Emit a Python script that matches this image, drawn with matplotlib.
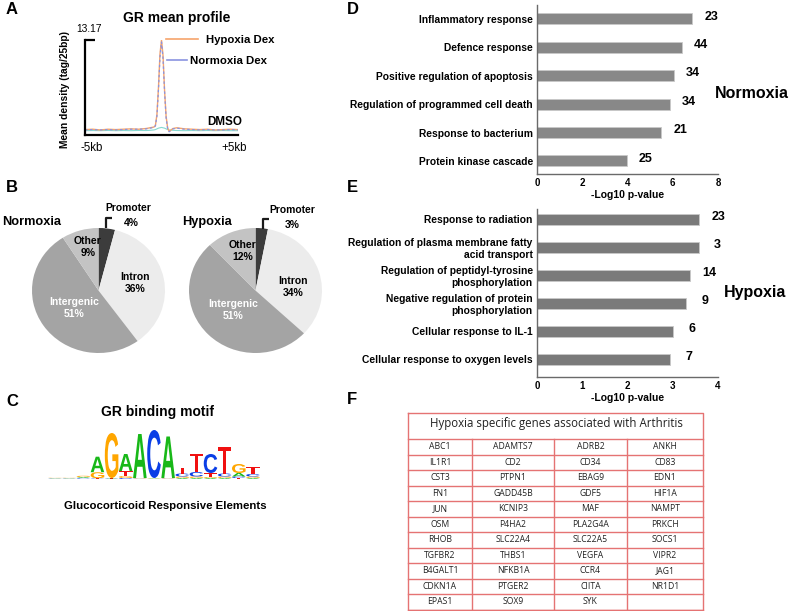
import matplotlib
matplotlib.use("Agg")
import matplotlib.pyplot as plt
from matplotlib.textpath import TextPath
from matplotlib.font_manager import FontProperties
from matplotlib.patches import PathPatch
from matplotlib.transforms import Affine2D

# ---------------- data ----------------
# Panel A: GR mean profile
profile_kb = [-5, -4.5, -4, -3.5, -3, -2.5, -2, -1.5, -1, -0.75, -0.5, -0.4, -0.3, -0.2, -0.1, 0,
              0.1, 0.2, 0.3, 0.4, 0.5, 0.75, 1, 1.5, 2, 2.5, 3, 3.5, 4, 4.5, 5]
hypoxia_dex = [0.75, 0.8, 0.7, 0.8, 0.75, 0.8, 0.85, 0.8, 0.9, 1.0, 1.1, 1.3, 2.8, 6.5, 11.2, 13.17,
               11.0, 6.2, 2.6, 1.0, 0.5, 0.9, 1.0, 0.85, 0.8, 0.75, 0.8, 0.7, 0.75, 0.8, 0.75]
normoxia_dex = [0.7, 0.75, 0.7, 0.75, 0.7, 0.75, 0.8, 0.8, 0.85, 0.95, 1.05, 1.25, 2.6, 6.2, 10.8, 12.9,
                10.6, 6.0, 2.4, 0.9, 0.45, 0.85, 0.95, 0.8, 0.75, 0.7, 0.75, 0.7, 0.7, 0.75, 0.7]
dmso = [0.6, 0.62, 0.6, 0.63, 0.6, 0.62, 0.6, 0.63, 0.62, 0.65, 0.7, 0.75, 0.85, 0.95, 1.0, 1.05,
        1.0, 0.95, 0.85, 0.75, 0.7, 0.65, 0.62, 0.6, 0.62, 0.6, 0.62, 0.6, 0.62, 0.6, 0.6]
profile_ymax = 13.17

# Panel B: genomic distribution
pie_labels = ["Promoter", "Intron", "Intergenic", "Other"]
normoxia_pct = [4, 36, 51, 9]
hypoxia_pct = [3, 34, 51, 12]

# Panel C: motif (stack bottom->top, heights in bits-like units)
motif = [
    [("T", 0.3), ("C", 0.3), ("A", 0.3), ("G", 0.3)],
    [("T", 0.3), ("C", 0.3), ("A", 0.3), ("G", 0.3)],
    [("T", 0.4), ("C", 0.7), ("A", 0.9), ("G", 1.2)],
    [("C", 0.4), ("T", 0.4), ("G", 6.0), ("A", 15.5)],
    [("C", 0.3), ("T", 0.3), ("A", 0.4), ("G", 45.0)],
    [("C", 1.0), ("G", 2.0), ("T", 5.0), ("A", 17.0)],
    [("T", 0.3), ("C", 0.3), ("G", 0.4), ("A", 44.0)],
    [("T", 0.3), ("G", 0.3), ("A", 0.4), ("C", 48.0)],
    [("T", 0.3), ("C", 0.3), ("G", 0.4), ("A", 41.5)],
    [("A", 1.0), ("G", 1.5), ("C", 3.0), ("T", 6.0)],
    [("A", 1.0), ("G", 1.5), ("C", 4.5), ("T", 18.5)],
    [("A", 1.0), ("G", 1.0), ("T", 4.0), ("C", 19.0)],
    [("A", 1.0), ("G", 1.5), ("C", 3.0), ("T", 27.0)],
    [("T", 1.0), ("C", 1.5), ("A", 3.5), ("G", 9.0)],
    [("A", 1.0), ("G", 1.5), ("C", 2.5), ("T", 7.0)],
]

# Panel D: normoxia GO terms
norm_terms = ["Inflammatory response", "Defence response", "Positive regulation of apoptosis",
              "Regulation of programmed cell death", "Response to bacterium", "Protein kinase cascade"]
norm_logp = [6.87, 6.40, 6.05, 5.87, 5.50, 3.96]
norm_counts = [23, 44, 34, 34, 21, 25]

# Panel E: hypoxia GO terms
hyp_terms = ["Response to radiation", "Regulation of plasma membrane fatty\nacid transport",
             "Regulation of peptidyl-tyrosine\nphosphorylation",
             "Negative regulation of protein\nphosphorylation", "Cellular response to IL-1",
             "Cellular response to oxygen levels"]
hyp_logp = [3.59, 3.57, 3.39, 3.30, 3.00, 2.93]
hyp_counts = [23, 3, 14, 9, 6, 7]

# Panel F: gene table
table_title = "Hypoxia specific genes associated with Arthritis"
genes_col1 = ["ABC1", "IL1R1", "CST3", "FN1", "JUN", "OSM", "RHOB", "TGFBR2", "B4GALT1", "CDKN1A", "EPAS1"]
genes_col2 = ["ADAMTS7", "CD2", "PTPN1", "GADD45B", "KCNIP3", "P4HA2", "SLC22A4", "THBS1", "NFKB1A", "PTGER2", "SOX9"]
genes_col3 = ["ADRB2", "CD34", "EBAG9", "GDF5", "MAF", "PLA2G4A", "SLC22A5", "VEGFA", "CCR4", "CIITA", "SYK"]
genes_col4 = ["ANKH", "CD83", "EDN1", "HIF1A", "NAMPT", "PRKCH", "SOCS1", "VIPR2", "JAG1", "NR1D1", ""]

# ---------------- layout helpers ----------------
W, H = 789, 611
plt.rcParams['font.family'] = ['Liberation Sans', 'DejaVu Sans']
fig = plt.figure(figsize=(W / 100, H / 100), dpi=100)
fig.patch.set_facecolor("white")


def rect(x0, y0, x1, y1):
    return [x0 / W, 1 - y1 / H, (x1 - x0) / W, (y1 - y0) / H]


ov = fig.add_axes([0, 0, 1, 1], zorder=10)
ov.set_xlim(0, W)
ov.set_ylim(H, 0)
ov.axis("off")
ov.patch.set_visible(False)


def T(x, y, s, size=7, weight="bold", ha="center", va="center", **kw):
    ov.text(x, y, s, fontsize=size, fontweight=weight, ha=ha, va=va, **kw)


# panel letters
for letter, (lx, ly) in zip("ABCDEF", [(6, 10), (6, 188), (6, 401), (347, 10), (347, 188), (347, 399)]):
    T(lx, ly, letter, size=12, ha="left")

# ---------------- Panel A ----------------
axA = fig.add_axes(rect(85, 40, 238, 135))
axA.plot(profile_kb, dmso, color="#86d8cf", lw=0.8)
axA.plot(profile_kb, hypoxia_dex, color="#f6a46c", lw=1.0)
axA.plot(profile_kb, normoxia_dex, color="#8a93e0", lw=0.9, ls=(0, (2, 2)))
axA.set_xlim(-5, 5)
axA.set_ylim(0, profile_ymax)
for s in ["top", "right"]:
    axA.spines[s].set_visible(False)
for s in ["left", "bottom"]:
    axA.spines[s].set_linewidth(1.6)
axA.set_xticks([])
axA.set_yticks([profile_ymax])
axA.set_yticklabels([])
axA.tick_params(axis="y", direction="in", length=7, width=1.6)
T(177, 18, "GR mean profile", size=10)
T(76, 29, "13.17", size=7.4, weight="normal", ha="left")
T(92, 148, "-5kb", size=8.3, weight="normal")
T(234, 148, "+5kb", size=8.3, weight="normal")
T(65, 90, "Mean density (tag/25bp)", size=7.4, rotation=90)
ov.plot([166, 198], [39, 39], color="#f6a46c", lw=1.2)
T(206, 40, "Hypoxia Dex", size=8.2, ha="left")
ov.plot([167, 187], [60, 60], color="#8a93e0", lw=1.2)
T(190, 61, "Normoxia Dex", size=8.2, ha="left")
T(225, 122, "DMSO", size=8.4)

# ---------------- Panel B ----------------
pie_colors = ["#3c3c3c", "#ececec", "#a4a4a4", "#c3c3c3"]
for (x0, x1), vals, title, tx in [((32, 165), normoxia_pct, "Normoxia", 2),
                                  ((189, 322), hypoxia_pct, "Hypoxia", 182)]:
    axp = fig.add_axes(rect(x0, 228, x1, 353))
    axp.pie(vals, colors=pie_colors, startangle=90, counterclock=False, radius=1.0,
            wedgeprops=dict(edgecolor="none"))
    axp.set_aspect("auto")
    axp.set_xlim(-1, 1)
    axp.set_ylim(-1, 1)
    T(tx, 222, title, size=9.2, ha="left")

T(128, 208, "Promoter", size=7.4)
T(131, 223, "4%", size=7.4)
ov.plot([106, 106, 112], [228, 218, 218], color="#1a1a1a", lw=1.6, solid_capstyle="butt")
T(88, 247, "Other\n9%", size=7.5, linespacing=1.15)
T(135, 283, "Intron\n36%", size=7.5, linespacing=1.15)
T(74, 308, "Intergenic\n51%", size=7.5, color="white", linespacing=1.15)

T(292, 210, "Promoter", size=7.4)
T(292, 225, "3%", size=7.4)
ov.plot([263, 263, 269], [229, 219, 219], color="#1a1a1a", lw=1.6, solid_capstyle="butt")
T(243, 251, "Other\n12%", size=7.5, linespacing=1.15)
T(293, 287, "Intron\n34%", size=7.5, linespacing=1.15)
T(233, 310, "Intergenic\n51%", size=7.5, color="white", linespacing=1.15)

# ---------------- Panel C ----------------
axC = fig.add_axes(rect(48, 425, 260, 479))
axC.set_xlim(-0.5, len(motif) - 0.5)
axC.set_ylim(0, 54)
axC.axis("off")
letter_colors = {"A": "#18b818", "C": "#0a3ee6", "G": "#ffa600", "T": "#f01010"}
fp = FontProperties(family="Liberation Sans", weight="bold")
for i, stack in enumerate(motif):
    y0 = 0.0
    for letter, h in stack:
        tp = TextPath((0, 0), letter, size=1, prop=fp)
        bb = tp.get_extents()
        w = 0.96
        tr = Affine2D().translate(-bb.x0, -bb.y0).scale(w / bb.width, h / bb.height).translate(i - w / 2, y0)
        axC.add_patch(PathPatch(tr.transform_path(tp), facecolor=letter_colors[letter], edgecolor="none"))
        y0 += h
T(158, 412, "GR binding motif", size=10)
T(165, 506, "Glucocorticoid Responsive Elements", size=8.2)

# ---------------- Panels D and E ----------------
def go_panel(ypx, terms, vals, counts, xmax, ylim, color, offset, side_label, side_xy):
    ax = fig.add_axes(rect(537, ypx[0], 718, ypx[1]))
    ypos = list(range(len(terms)))
    ax.barh(ypos, vals, height=0.39, color=color, edgecolor="#c8c8c8", linewidth=0.6)
    ax.set_xlim(0, xmax)
    ax.set_ylim(*ylim)
    ax.set_yticks(ypos)
    ax.set_yticklabels(terms, fontsize=7.4, fontweight="bold", linespacing=1.2)
    ax.tick_params(axis="y", length=0, pad=3)
    ax.set_xticks(range(0, xmax + 1, 2 if xmax == 8 else 1))
    ax.tick_params(axis="x", length=0, pad=3, labelsize=7)
    for lab in ax.get_xticklabels():
        lab.set_fontweight("bold")
    for s in ["top", "right"]:
        ax.spines[s].set_visible(False)
    for s in ["left", "bottom"]:
        ax.spines[s].set_color("#6a6a6a")
        ax.spines[s].set_linewidth(1.0)
    ax.set_xlabel("-Log10 p-value", fontsize=7.5, fontweight="bold", labelpad=1)
    for yv, v, c in zip(ypos, vals, counts):
        ax.text(v + offset, yv - 0.08, str(c), fontsize=9, fontweight="bold", ha="center", va="center")
    T(side_xy[0], side_xy[1], side_label, size=11.5, ha="left")
    return ax


go_panel((5, 174), norm_terms, norm_logp, norm_counts, 8, (5.46, -0.49), "#888888", 0.85,
         "Normoxia", (715, 94))
go_panel((209, 377), hyp_terms, hyp_logp, hyp_counts, 4, (5.64, -0.36), "#7a7a7a", 0.42,
         "Hypoxia", (724, 293))

# ---------------- Panel F ----------------
line_c = "#e57373"
tx0, tx1 = 408, 703
ty0, ty_title = 413, 439
row_h = 15.5
col_edges = [408, 472, 554, 627, 703]
nrows = len(genes_col1)
ty1 = ty_title + nrows * row_h
ov.plot([tx0, tx1, tx1, tx0, tx0], [ty0, ty0, ty1, ty1, ty0], color=line_c, lw=1.0)
for r in range(nrows + 1):
    yy = ty_title + r * row_h
    ov.plot([tx0, tx1], [yy, yy], color=line_c, lw=1.0)
for xe in col_edges[1:-1]:
    ov.plot([xe, xe], [ty_title, ty1], color=line_c, lw=1.0)
T(556, 424, table_title, size=8.3, weight="normal", family="Open Sans", color="#222222")
for ci, col in enumerate([genes_col1, genes_col2, genes_col3, genes_col4]):
    cx = (col_edges[ci] + col_edges[ci + 1]) / 2
    for r, g in enumerate(col):
        if g:
            T(cx, ty_title + (r + 0.5) * row_h, g, size=6.2, weight="normal",
              family="Open Sans", color="#222222")

fig.savefig("out.png", dpi=100, facecolor="white")
